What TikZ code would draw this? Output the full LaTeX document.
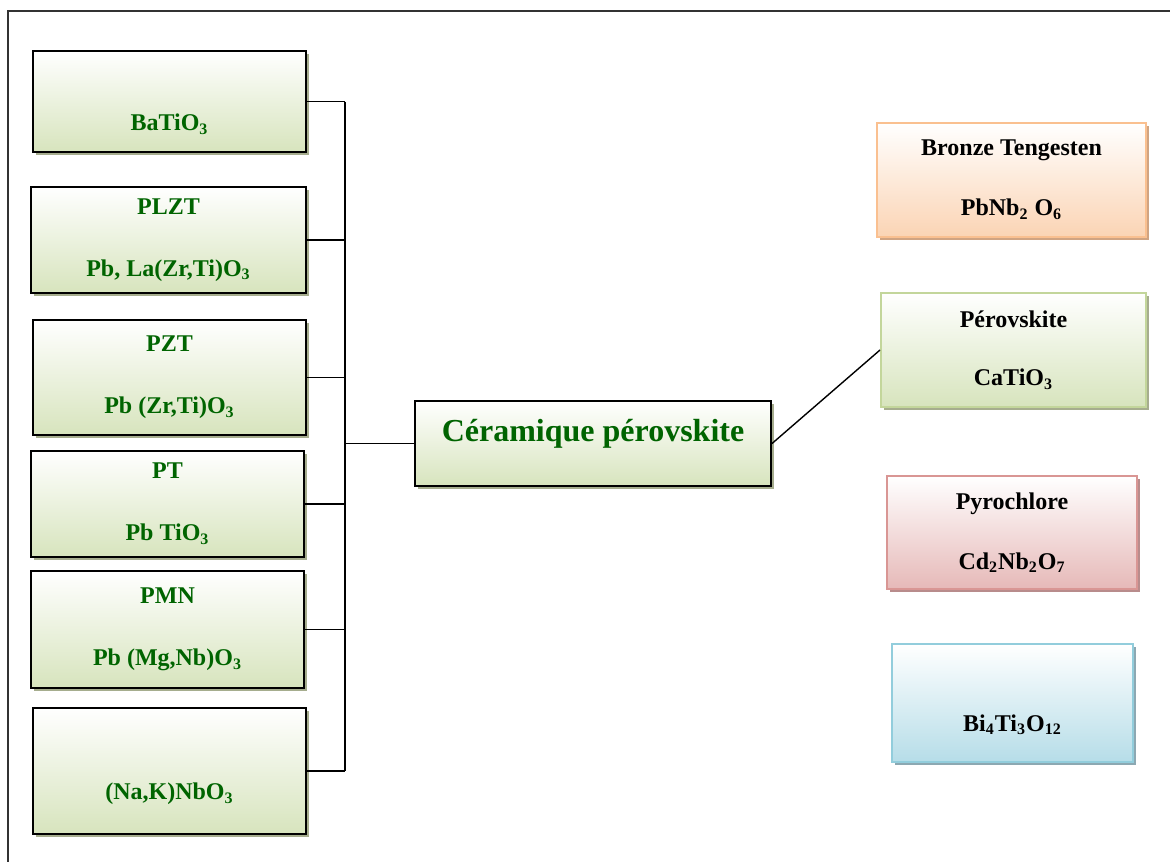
\documentclass[tikz,border=0pt]{standalone}
\usepackage{fontspec}
\setmainfont{Liberation Serif}
\usetikzlibrary{calc, positioning, shadows}

\definecolor{vertfonce}{RGB}{0,100,0}
\definecolor{vertclair}{RGB}{215,228,189}
\definecolor{ombrevert}{RGB}{166,173,142}
\definecolor{bordorange}{RGB}{250,192,144}
\definecolor{fondorange}{RGB}{251,212,180}
\definecolor{ombreorange}{RGB}{208,164,130}
\definecolor{bordvert}{RGB}{195,214,155}
\definecolor{bordrose}{RGB}{217,150,148}
\definecolor{fondrose}{RGB}{230,185,184}
\definecolor{ombrerose}{RGB}{184,140,140}
\definecolor{bordbleu}{RGB}{146,205,220}
\definecolor{fondbleu}{RGB}{182,221,232}
\definecolor{ombrebleu}{RGB}{140,168,178}

\tikzset{
    boite/.style={rectangle, align=center, inner sep=0pt,
        font=\fontsize{12}{14}\selectfont\bfseries,
        top color=white, bottom color=#1},
    matiere/.style={boite=vertclair, draw=black, line width=1.3pt, text=vertfonce,
        drop shadow={shadow xshift=1.6pt, shadow yshift=-1.6pt, fill=ombrevert, opacity=1}},
    famille/.style n args={3}{boite=#2, draw=#1, line width=1pt, text=black,
        drop shadow={shadow xshift=1.6pt, shadow yshift=-1.6pt, fill=#3, opacity=1}},
    liaison/.style={line width=0.7pt}
}

\begin{document}
\begin{tikzpicture}[x=0.5pt, y=-0.5pt]

        \useasboundingbox (0,0) rectangle (1170,862);

        % ==========================================
        % CADRE: seulement le bord haut et le bord gauche
        % ==========================================
        \draw[line width=1pt, black!80] (1170,11) -- (8,11) -- (8,862);

        % ==========================================
        % PARTIE GAUCHE: les matériaux
        % ==========================================
        \node[matiere, minimum width=136.5pt, minimum height=50.5pt] (bati) at (169.5,101.5)
            {~\\[17pt]BaTiO\textsubscript{3}};
        \node[matiere, minimum width=137.5pt, minimum height=53pt] (plzt) at (168.5,240)
            {PLZT\\[17pt]Pb, La(Zr,Ti)O\textsubscript{3}};
        \node[matiere, minimum width=136.5pt, minimum height=57.5pt] (pzt) at (169.5,377.5)
            {PZT\\[17pt]Pb (Zr,Ti)O\textsubscript{3}};
        \node[matiere, minimum width=136.5pt, minimum height=53pt] (pt) at (167.5,504)
            {PT\\[17pt]Pb TiO\textsubscript{3}};
        \node[matiere, minimum width=136.5pt, minimum height=58.5pt] (pmn) at (167.5,629.5)
            {PMN\\[17pt]Pb (Mg,Nb)O\textsubscript{3}};
        \node[matiere, minimum width=136.5pt, minimum height=63pt] (nak) at (169.5,771)
            {~\\[17pt](Na,K)NbO\textsubscript{3}};

        % ==========================================
        % CENTRE: la céramique et le bus de liaison
        % ==========================================
        \node[matiere, line width=1pt, minimum width=178pt, minimum height=42.5pt,
              font=\fontsize{16}{19}\selectfont\bfseries, text depth=13pt] (ceram) at (593,443.5)
            {Céramique pérovskite};

        \coordinate (bus) at (345,0);
        \foreach \m in {bati, plzt, pzt, pt, pmn, nak}
            \draw[liaison] (\m.east) -- (\m.east -| bus);
        \draw[liaison] (bati.east -| bus) -- (nak.east -| bus);
        \draw[liaison] (ceram.west) -- (ceram.west -| bus);

        % ==========================================
        % PARTIE DROITE: les familles de structures
        % ==========================================
        \node[famille={bordorange}{fondorange}{ombreorange}, minimum width=134.5pt, minimum height=57pt]
            (bronze) at (1011.5,180) {Bronze Tengesten\\[16pt]PbNb\textsubscript{2} O\textsubscript{6}};
        \node[famille={bordvert}{vertclair}{ombrevert}, minimum width=132.5pt, minimum height=57pt]
            (perov) at (1013.5,350) {Pérovskite\\[15pt]CaTiO\textsubscript{3}};
        \node[famille={bordrose}{fondrose}{ombrerose}, minimum width=125pt, minimum height=56.5pt]
            (pyro) at (1012,532.5) {Pyrochlore\\[16pt]Cd\textsubscript{2}Nb\textsubscript{2}O\textsubscript{7}};
        \node[famille={bordbleu}{fondbleu}{ombrebleu}, minimum width=120.5pt, minimum height=59pt]
            (bit) at (1012.5,703) {~\\[16pt]Bi\textsubscript{4}Ti\textsubscript{3}O\textsubscript{12}};

        % la céramique vers la pérovskite
        \draw[liaison] (ceram.east) -- (perov.west);

    \end{tikzpicture}
\end{document}
